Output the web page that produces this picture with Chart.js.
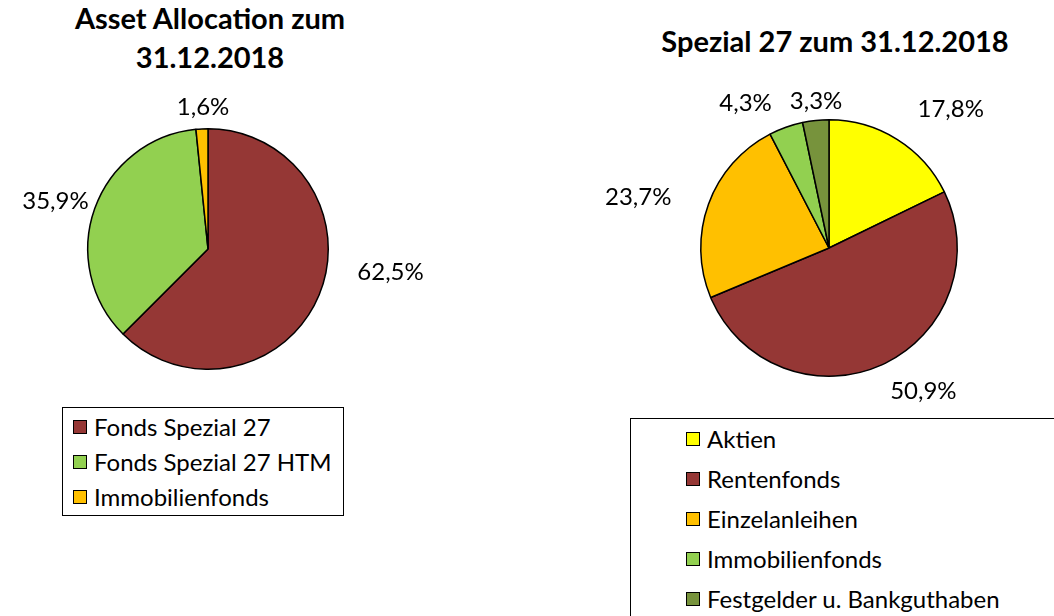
<!DOCTYPE html>
<html>
<head>
<meta charset="utf-8">
<script src="https://cdn.jsdelivr.net/npm/chart.js@4.4.1/dist/chart.umd.min.js"></script>
<style>
  html, body { margin: 0; padding: 0; background: #fff; }
  body { width: 1054px; height: 616px; position: relative; overflow: hidden; font-family: Lato, "Open Sans", sans-serif; color: #000; }
  .title { position: absolute; font-weight: bold; text-align: center; white-space: nowrap; }
  canvas { position: absolute; }
  .legend { position: absolute; border: 1.5px solid #000; box-sizing: border-box; background: #fff; }
  .item { position: absolute; font-size: 24px; line-height: 28px; white-space: nowrap; }
  .sw { position: absolute; width: 12px; height: 12px; border: 1.5px solid #000; }
</style>
</head>
<body>
<div class="title" id="t1" style="left:60px; top:-2px; width:300px; font-size:29px; line-height:39px;">Asset Allocation zum<br>31.12.2018</div>
<div class="title" id="t2" style="left:630px; top:26px; width:410px; font-size:29px; line-height:30px;">Spezial 27 zum 31.12.2018</div>

<canvas id="c1" width="440" height="320" style="left:0px; top:80px; width:440px; height:320px;"></canvas>
<canvas id="c2" width="494" height="330" style="left:560px; top:80px; width:494px; height:330px;"></canvas>

<div class="legend" id="lg1" style="left:62px; top:407px; width:282px; height:109px;"></div>
<div class="legend" id="lg2" style="left:630px; top:418px; width:440px; height:220px;"></div>

<script>
// ---- Data ----
const assetCategories = ["Fonds Spezial 27", "Fonds Spezial 27 HTM", "Immobilienfonds"];
const assetValues = [62.5, 35.9, 1.6];
const assetColors = ["#953735", "#92D050", "#FFC000"];

const spezialCategories = ["Aktien", "Rentenfonds", "Einzelanleihen", "Immobilienfonds", "Festgelder u. Bankguthaben"];
const spezialValues = [17.8, 50.9, 23.7, 4.3, 3.3];
const spezialColors = ["#FFFF00", "#953735", "#FFC000", "#92D050", "#77933C"];

// label placement tweaks (angle offset in degrees, distance as multiple of radius)
const assetLabelPlacement = [[-15.3, 1.53], [-2.1, 1.33], [0.9, 1.18]];
const spezialLabelPlacement = [[9.2, 1.44], [-9.0, 1.34], [-5.0, 1.54], [-10.4, 1.30], [0.9, 1.15]];

function fmt(v) { return v.toFixed(1).replace('.', ',') + '%'; }

const outsideLabels = {
  id: 'outsideLabels',
  afterDatasetsDraw(chart, args, opts) {
    const ctx = chart.ctx;
    const meta = chart.getDatasetMeta(0);
    const vals = chart.data.datasets[0].data;
    const place = opts.placement || [];
    ctx.save();
    ctx.font = '24px Lato, "Open Sans", sans-serif';
    ctx.fillStyle = '#000';
    ctx.textAlign = 'center';
    ctx.textBaseline = 'middle';
    meta.data.forEach((arc, i) => {
      const p = arc.getProps(['x', 'y', 'startAngle', 'endAngle', 'outerRadius'], true);
      const pl = place[i] || [0, 1.3];
      const mid = (p.startAngle + p.endAngle) / 2 + pl[0] * Math.PI / 180;
      const r = p.outerRadius * pl[1];
      ctx.fillText(fmt(vals[i]), p.x + Math.cos(mid) * r, p.y + Math.sin(mid) * r);
    });
    ctx.restore();
  }
};

function makePie(id, labels, values, colors, padding, placement) {
  return new Chart(document.getElementById(id), {
    type: 'pie',
    data: {
      labels: labels,
      datasets: [{ data: values, backgroundColor: colors, borderColor: '#000', borderWidth: 1.5 }]
    },
    options: {
      responsive: false,
      animation: false,
      layout: { padding: padding },
      plugins: {
        legend: { display: false },
        tooltip: { enabled: false },
        title: { display: false },
        outsideLabels: { placement: placement }
      }
    },
    plugins: [outsideLabels]
  });
}

makePie('c1', assetCategories, assetValues, assetColors,
  { left: 87, right: 111, top: 48, bottom: 30 }, assetLabelPlacement);
makePie('c2', spezialCategories, spezialValues, spezialColors,
  { left: 140, right: 96, top: 39, bottom: 33 }, spezialLabelPlacement);

function makeLegend(id, labels, colors, x0, y0, step) {
  const el = document.getElementById(id);
  labels.forEach((lab, i) => {
    const sw = document.createElement('div');
    sw.className = 'sw';
    sw.style.background = colors[i];
    sw.style.left = x0 + 'px';
    sw.style.top = (y0 + i * step - 7) + 'px';
    el.appendChild(sw);
    const t = document.createElement('div');
    t.className = 'item';
    t.textContent = lab;
    t.style.left = (x0 + 21) + 'px';
    t.style.top = (y0 + i * step - 14) + 'px';
    el.appendChild(t);
  });
}
makeLegend('lg1', assetCategories, assetColors, 10, 19, 35);
makeLegend('lg2', spezialCategories, spezialColors, 55, 20, 40);
</script>
</body>
</html>
